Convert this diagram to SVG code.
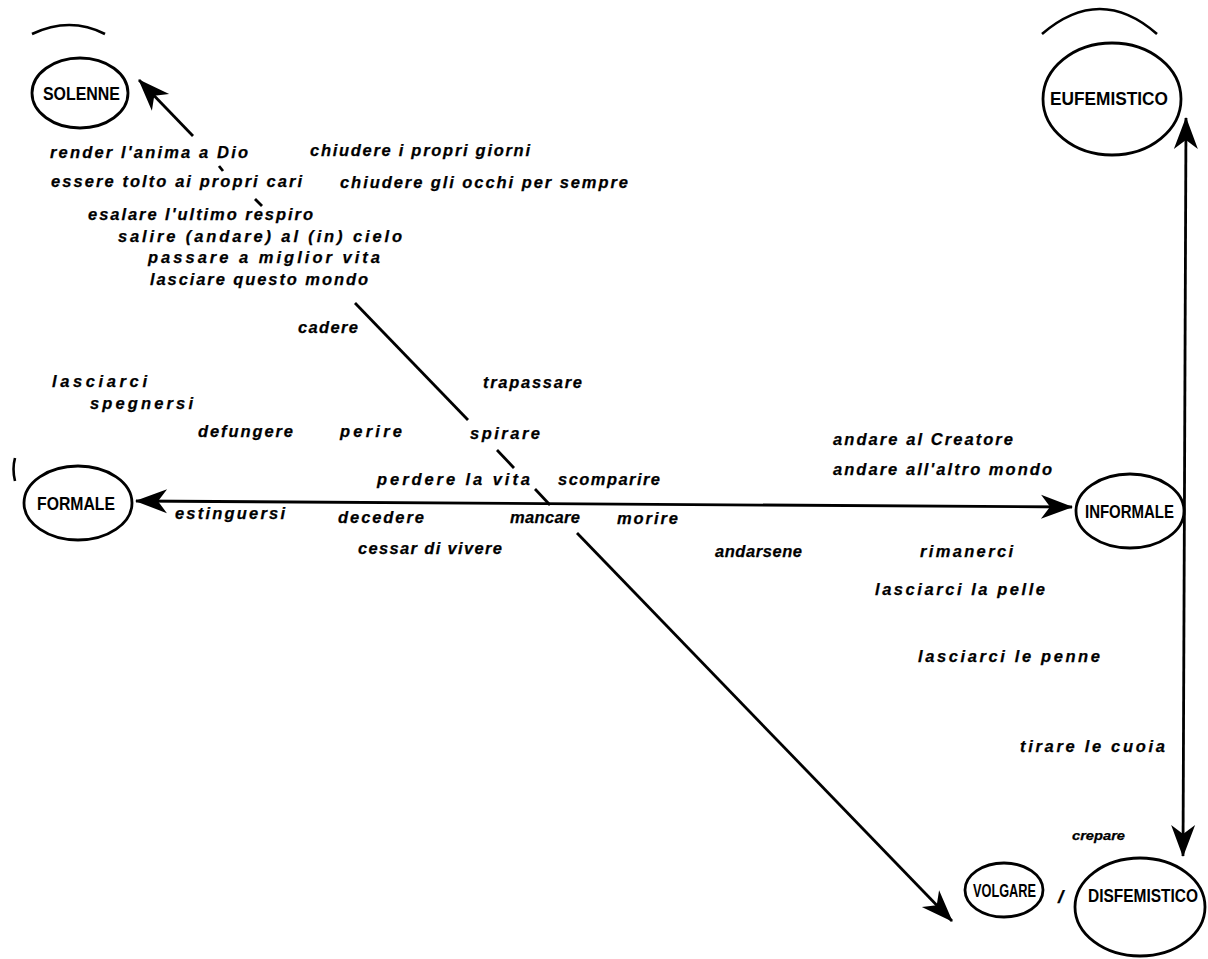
<svg xmlns="http://www.w3.org/2000/svg" width="1208" height="959" viewBox="0 0 1208 959">
  <style>
    .bg { fill: #ffffff; }
    .node { fill: none; stroke: #000; stroke-width: 2.8; }
    .lbl { font-family: "Liberation Sans", Arial, sans-serif; font-weight: bold; font-size: 18px; fill: #000; }
    .t { font-family: "Liberation Sans", Arial, sans-serif; font-weight: bold; font-style: italic; font-size: 16.5px; fill: #000; stroke: #000; stroke-width: 0.25; }
    .small { font-size: 13px; }
    .slash { font-size: 19px; }
    .edge { fill: none; stroke: #000; stroke-width: 2.8; }
    .arc { fill: none; stroke: #000; stroke-width: 2.6; }
  </style>
  <defs>
    <marker id="head" markerUnits="userSpaceOnUse" markerWidth="36" markerHeight="28" viewBox="-34 -14 36 28" refX="0" refY="0" orient="auto-start-reverse">
      <path d="M1,0 L-31,-12 L-22,0 L-31,12 Z" fill="#000"/>
    </marker>
  </defs>

  <rect class="bg" x="0" y="0" width="1208" height="959"/>

  <!-- stray arcs -->
  <path class="arc" d="M32,34 Q70,16 105,34"/>
  <path class="arc" d="M1042,34 Q1100,-16 1157,34"/>
  <path class="arc" d="M15,458 Q12,469 15,481"/>

  <!-- nodes -->
  <g id="solenne">
    <ellipse class="node" cx="80" cy="93" rx="48" ry="35"/>
    <text class="lbl" x="43" y="100" textLength="77" lengthAdjust="spacingAndGlyphs">SOLENNE</text>
  </g>
  <g id="eufemistico">
    <ellipse class="node" cx="1112" cy="99" rx="69" ry="56"/>
    <text class="lbl" x="1050" y="105" textLength="118" lengthAdjust="spacingAndGlyphs">EUFEMISTICO</text>
  </g>
  <g id="formale">
    <ellipse class="node" cx="78" cy="503" rx="54" ry="37"/>
    <text class="lbl" x="37" y="510" textLength="78" lengthAdjust="spacingAndGlyphs">FORMALE</text>
  </g>
  <g id="informale">
    <ellipse class="node" cx="1130" cy="511" rx="54" ry="37"/>
    <text class="lbl" x="1085" y="518" textLength="89" lengthAdjust="spacingAndGlyphs">INFORMALE</text>
  </g>
  <g id="volgare">
    <ellipse class="node" cx="1004" cy="890" rx="39" ry="27"/>
    <text class="lbl" x="973" y="897" textLength="63" lengthAdjust="spacingAndGlyphs">VOLGARE</text>
  </g>
  <g id="separatore">
    <text class="t slash" x="1058" y="903">/</text>
  </g>
  <g id="disfemistico">
    <ellipse class="node" cx="1140" cy="907" rx="65" ry="49"/>
    <text class="lbl" x="1088" y="902" textLength="110" lengthAdjust="spacingAndGlyphs">DISFEMISTICO</text>
  </g>

  <!-- connectors -->
  <g id="connectors">
    <!-- formale / informale axis -->
    <line class="edge" x1="136" y1="501" x2="1072" y2="507" marker-start="url(#head)" marker-end="url(#head)"/>
    <!-- eufemistico / disfemistico axis -->
    <line class="edge" x1="1186" y1="118" x2="1183" y2="856" marker-start="url(#head)" marker-end="url(#head)"/>
    <!-- solenne / volgare diagonal, broken behind the words -->
    <line class="edge" x1="193" y1="136" x2="139" y2="80" marker-end="url(#head)"/>
    <line class="edge" x1="219" y1="166" x2="223" y2="171"/>
    <line class="edge" x1="255" y1="199" x2="262" y2="206"/>
    <line class="edge" x1="355" y1="303" x2="468" y2="420"/>
    <line class="edge" x1="497" y1="450" x2="514" y2="468"/>
    <line class="edge" x1="535" y1="489" x2="550" y2="505"/>
    <line class="edge" x1="577" y1="533" x2="952" y2="921" marker-end="url(#head)"/>
  </g>

  <!-- verbs -->
  <g id="verbi">
    <text class="t" x="50" y="158" textLength="198">render l'anima a Dio</text>
    <text class="t" x="310" y="156" textLength="220">chiudere i propri giorni</text>
    <text class="t" x="51" y="187" textLength="251">essere tolto ai propri cari</text>
    <text class="t" x="340" y="188" textLength="288">chiudere gli occhi per sempre</text>
    <text class="t" x="88" y="220" textLength="225">esalare l'ultimo respiro</text>
    <text class="t" x="118" y="242" textLength="284">salire (andare) al (in) cielo</text>
    <text class="t" x="148" y="263" textLength="232">passare a miglior vita</text>
    <text class="t" x="150" y="285" textLength="218">lasciare questo mondo</text>
    <text class="t" x="298" y="333" textLength="60">cadere</text>
    <text class="t" x="52" y="387" textLength="95">lasciarci</text>
    <text class="t" x="90" y="409" textLength="103">spegnersi</text>
    <text class="t" x="198" y="437" textLength="95">defungere</text>
    <text class="t" x="340" y="437" textLength="62">perire</text>
    <text class="t" x="483" y="388" textLength="99">trapassare</text>
    <text class="t" x="470" y="439" textLength="70">spirare</text>
    <text class="t" x="377" y="485" textLength="153">perdere la vita</text>
    <text class="t" x="558" y="485" textLength="102">scomparire</text>
    <text class="t" x="175" y="519" textLength="110">estinguersi</text>
    <text class="t" x="338" y="523" textLength="86">decedere</text>
    <text class="t" x="510" y="523" textLength="70">mancare</text>
    <text class="t" x="617" y="524" textLength="61">morire</text>
    <text class="t" x="358" y="554" textLength="144">cessar di vivere</text>
    <text class="t" x="715" y="557" textLength="87">andarsene</text>
    <text class="t" x="920" y="557" textLength="93">rimanerci</text>
    <text class="t" x="833" y="445" textLength="180">andare al Creatore</text>
    <text class="t" x="833" y="475" textLength="219">andare all'altro mondo</text>
    <text class="t" x="875" y="595" textLength="170">lasciarci la pelle</text>
    <text class="t" x="918" y="662" textLength="182">lasciarci le penne</text>
    <text class="t" x="1020" y="752" textLength="145">tirare le cuoia</text>
    <text class="t small" x="1072" y="840" textLength="53" lengthAdjust="spacingAndGlyphs">crepare</text>
  </g>
</svg>
